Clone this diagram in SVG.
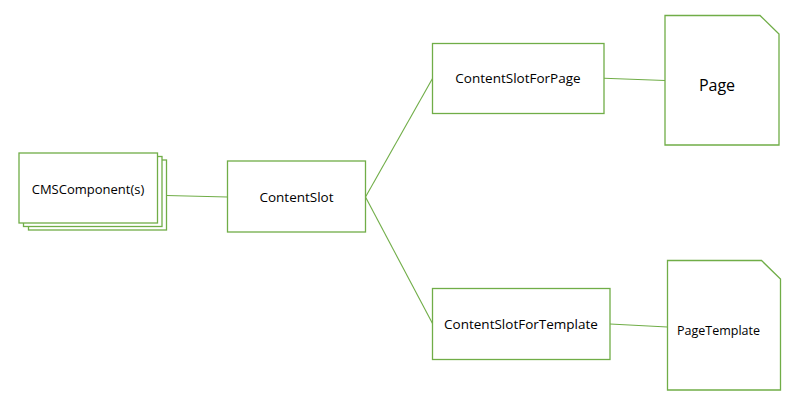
<svg xmlns="http://www.w3.org/2000/svg" width="792" height="407" viewBox="0 0 792 407">
<style>
.b{fill:#fff;stroke:#70AD47;stroke-width:1.3}
.c{fill:none;stroke:#70AD47;stroke-width:1.1}
text{font-family:"Open Sans","Noto Sans",sans-serif;font-size:13.5px;fill:#000;text-anchor:middle}
</style>
<rect width="792" height="407" fill="#fff"/>
<g id="connectors">
<line class="c" x1="166.5" y1="195.5" x2="227.5" y2="197"/>
<line class="c" x1="365.5" y1="197" x2="432.5" y2="78.5"/>
<line class="c" x1="365.5" y1="197" x2="432.5" y2="323.5"/>
<line class="c" x1="604" y1="78.3" x2="665" y2="80.5"/>
<line class="c" x1="610" y1="324" x2="667.5" y2="327"/>
</g>
<g id="cms">
<rect class="b" x="28.5" y="160" width="138" height="70"/>
<rect class="b" x="23.5" y="156.5" width="138.5" height="70"/>
<rect class="b" x="19" y="153" width="138.5" height="70"/>
<text x="88" y="194" style="font-size:13px">CMSComponent(s)</text>
</g>
<g id="contentslot">
<rect class="b" x="227.5" y="161" width="138" height="71"/>
<text x="296.5" y="201.5">ContentSlot</text>
</g>
<g id="csfp">
<rect class="b" x="432.5" y="43.5" width="171.5" height="70"/>
<text x="518" y="83">ContentSlotForPage</text>
</g>
<g id="csft">
<rect class="b" x="432.5" y="288.5" width="177.5" height="71"/>
<text x="521" y="329">ContentSlotForTemplate</text>
</g>
<g id="page">
<polygon class="b" points="665,15.5 760,15.5 779,34 779,145 665,145"/>
<text x="717" y="91" style="font-size:16px">Page</text>
</g>
<g id="pagetemplate">
<polygon class="b" points="667.5,260.5 761.5,260.5 780.5,279 780.5,390 667.5,390"/>
<text x="718.5" y="335" style="font-size:12.5px">PageTemplate</text>
</g>
</svg>
